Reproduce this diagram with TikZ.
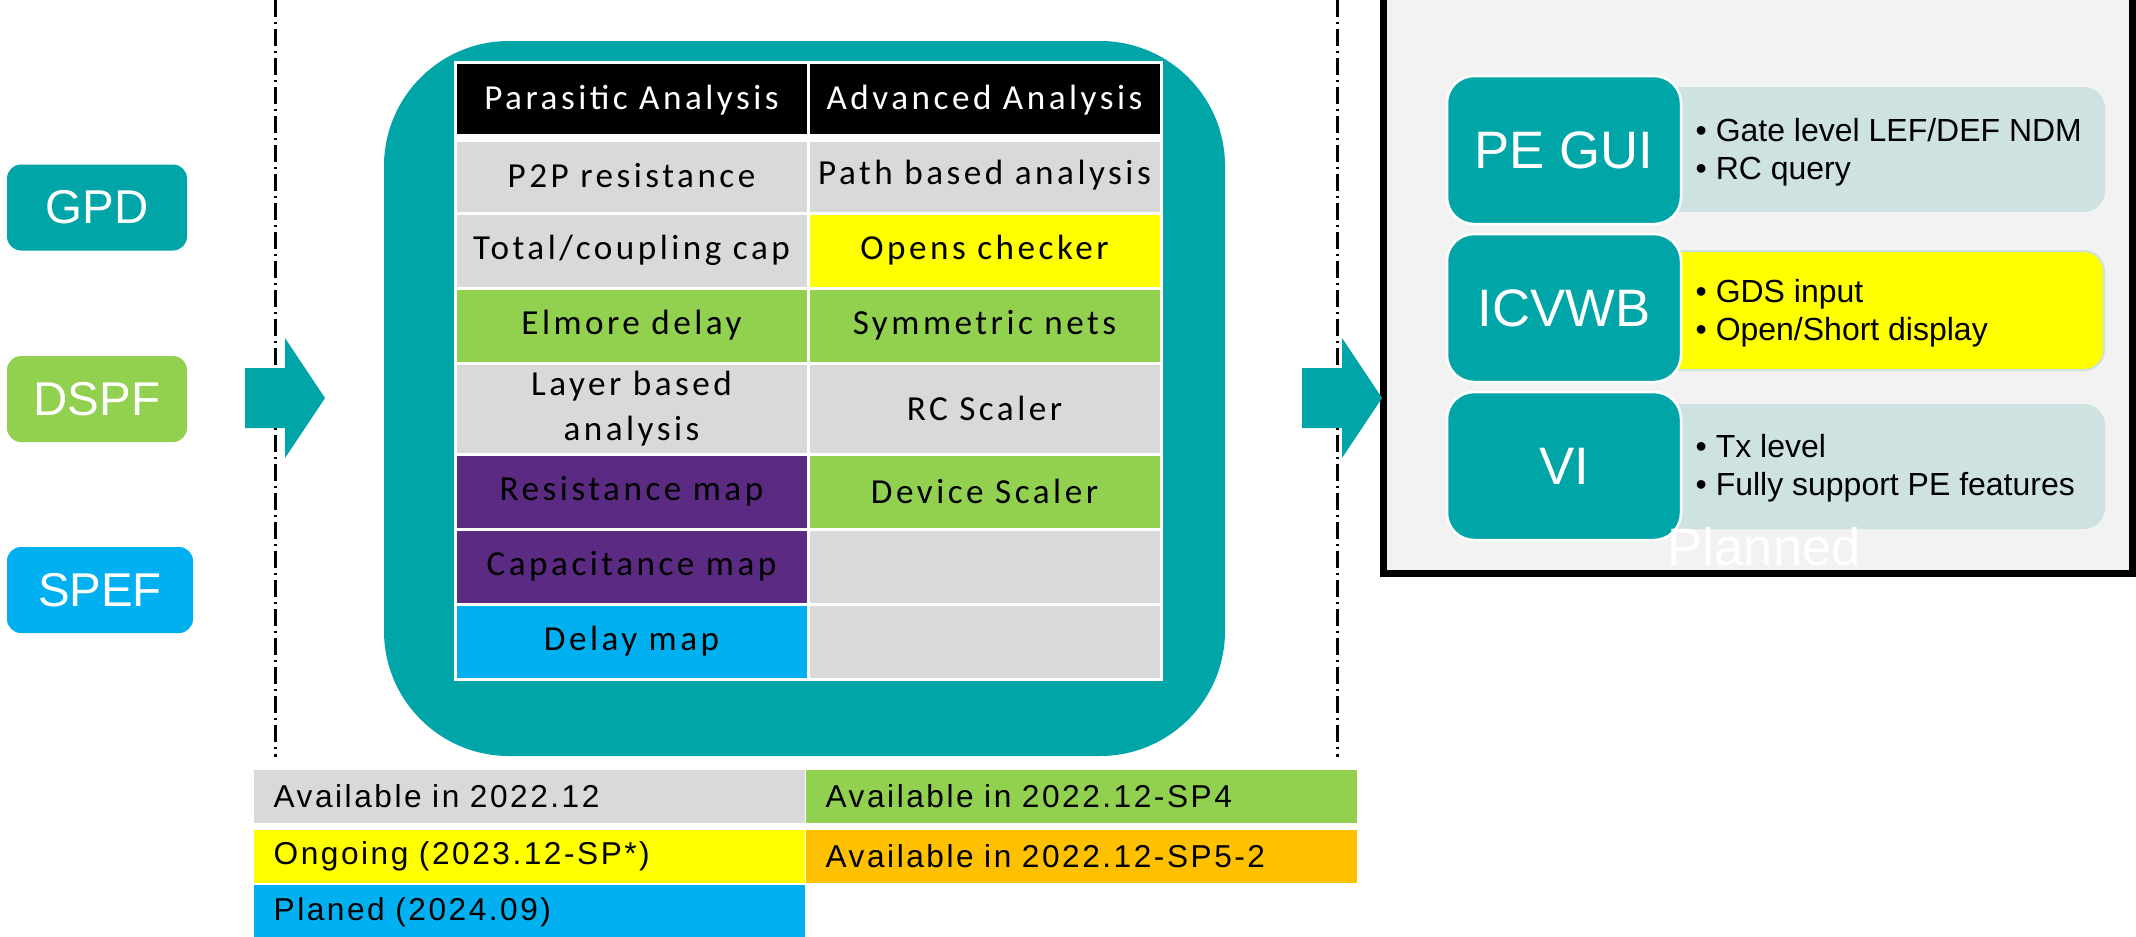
\documentclass[tikz,border=0pt]{standalone}
\usepackage{fontspec}
\setmainfont{Liberation Sans}
\newfontfamily\cellfont{Carlito}[LetterSpace=10]
\newfontfamily\keyfont{Liberation Sans}[LetterSpace=8]
\definecolor{pteal}{RGB}{0,165,167}
\definecolor{cellgray}{RGB}{217,217,217}
\definecolor{cellgreen}{RGB}{146,208,80}
\definecolor{cellyellow}{RGB}{255,255,0}
\definecolor{cellpurple}{RGB}{91,42,130}
\definecolor{cellblue}{RGB}{0,176,240}
\definecolor{cellorange}{RGB}{255,192,0}
\definecolor{panelgray}{RGB}{242,242,242}
\definecolor{softteal}{RGB}{206,226,225}
\tikzset{
  inbox/.style={rounded corners=1.4mm,text=white,minimum height=8.6mm,inner sep=0pt,font=\fontsize{13.5}{16}\selectfont},
  cell/.style={anchor=north west,draw=white,line width=0.3mm,outer sep=0pt,minimum width=35.3mm,minimum height=7.5mm,inner sep=0pt,align=center,font=\cellfont\fontsize{10}{12.8}\selectfont},
  tool/.style={rounded corners=2.7mm,fill=pteal,draw=white,line width=0.25mm,minimum width=23.4mm,minimum height=14.8mm,text=white,font=\fontsize{15}{18}\selectfont},
  notes/.style={rounded corners=2mm,draw=softteal,line width=0.2mm,minimum width=46.4mm},
  bullets/.style={anchor=west,inner sep=0pt,align=left,font=\fontsize{9.1}{10.8}\selectfont},
  key/.style={anchor=north west,minimum height=5.3mm,text width=51.1mm,inner xsep=2mm,inner ysep=0pt,align=left,font=\keyfont\fontsize{9}{11}\selectfont},
  guide/.style={line width=0.3mm,dash pattern=on 1.7mm off 0.5mm on 0.2mm off 0.5mm},
}
\begin{document}
\begin{tikzpicture}[x=0.1mm,y=-0.1mm]
\useasboundingbox (0,0) rectangle (2136,937);
% inputs
\node[inbox,fill=pteal,minimum width=18mm] (gpd) at (97,207.5) {GPD};
\node[inbox,fill=cellgreen,minimum width=18mm] (dspf) at (97,399) {DSPF};
\node[inbox,fill=cellblue,minimum width=18.6mm] (spef) at (100,590) {SPEF};
\draw[guide] (275,0) -- (275,757);
\draw[guide] (1337,0) -- (1337,757);
\fill[pteal] (245,368) -- (285,368) -- (285,338) -- (325,398) -- (285,458) -- (285,428) -- (245,428) -- cycle;
% feature table
\fill[pteal,rounded corners=12.5mm] (384,41) rectangle (1225,756);
\node[cell,fill=black,text=white,minimum height=7.6mm] (hdrP) at (455,62) {Parasitic Analysis};
\node[cell,fill=black,text=white,minimum height=7.6mm] (hdrA) at (808,62) {Advanced Analysis};
\node[cell,fill=cellgray] (p2p) at (455,138) {P2P resistance};
\node[cell,fill=cellgray] (pathan) at (808,138) {Path based analysis};
\node[cell,fill=cellgray] (totcap) at (455,213) {Total/coupling cap};
\node[cell,fill=cellyellow] (opens) at (808,213) {Opens checker};
\node[cell,fill=cellgreen] (elmore) at (455,288) {Elmore delay};
\node[cell,fill=cellgreen] (symnets) at (808,288) {Symmetric nets};
\node[cell,fill=cellgray,minimum height=9.1mm] (layer) at (455,363) {Layer based\\analysis};
\node[cell,fill=cellgray,minimum height=9.1mm] (rcscale) at (808,363) {RC Scaler};
\node[cell,fill=cellpurple] (resmap) at (455,454) {Resistance map};
\node[cell,fill=cellgreen] (devscale) at (808,454) {Device Scaler};
\node[cell,fill=cellpurple] (capmap) at (455,529) {Capacitance map};
\node[cell,fill=cellgray] (emptyA) at (808,529) {};
\node[cell,fill=cellblue] (delaymap) at (455,604) {Delay map};
\node[cell,fill=cellgray] (emptyB) at (808,604) {};
\draw[white,line width=0.8mm] (hdrP.south west) -- (hdrA.south east);
% viewers
\draw[line width=0.7mm,fill=panelgray] (1383,-20) rectangle (2132.5,573);
\fill[pteal] (1302,368) -- (1342,368) -- (1342,338) -- (1382,398) -- (1342,458) -- (1342,428) -- (1302,428) -- cycle;
\node[notes,fill=softteal,minimum height=12.3mm] (guinotes) at (1872,149.5) {};
\node[notes,fill=cellyellow,minimum height=11.9mm] (wbnotes) at (1872,310.5) {};
\node[notes,fill=softteal,minimum height=12.3mm] (vinotes) at (1872,466.5) {};
\node[tool] (pegui) at (1564,150) {PE GUI};
\node[tool] (icvwb) at (1564,308) {ICVWB};
\node[tool] (vi) at (1564,466) {VI};
\node[bullets] (guitext) at (1695,152) {• Gate level LEF/DEF NDM\\• RC query};
\node[bullets] (wbtext) at (1695,313) {• GDS input\\• Open/Short display};
\node[bullets] (vitext) at (1695,468) {• Tx level\\• Fully support PE features};
\node[anchor=base west,inner sep=0pt,text=white,font=\fontsize{15}{18}\selectfont] (planned) at (1667,565) {Planned};
% legend
\node[key,fill=cellgray] (keyA) at (253,769) {Available in 2022.12};
\node[key,fill=cellgreen] (keyB) at (805,769) {Available in 2022.12-SP4};
\node[key,fill=cellyellow] (keyC) at (253,829) {Ongoing (2023.12-SP*)};
\node[key,fill=cellorange] (keyD) at (805,829) {Available in 2022.12-SP5-2};
\node[key,fill=cellblue,minimum height=5.6mm] (keyE) at (253,884) {Planed (2024.09)};
\end{tikzpicture}
\end{document}
